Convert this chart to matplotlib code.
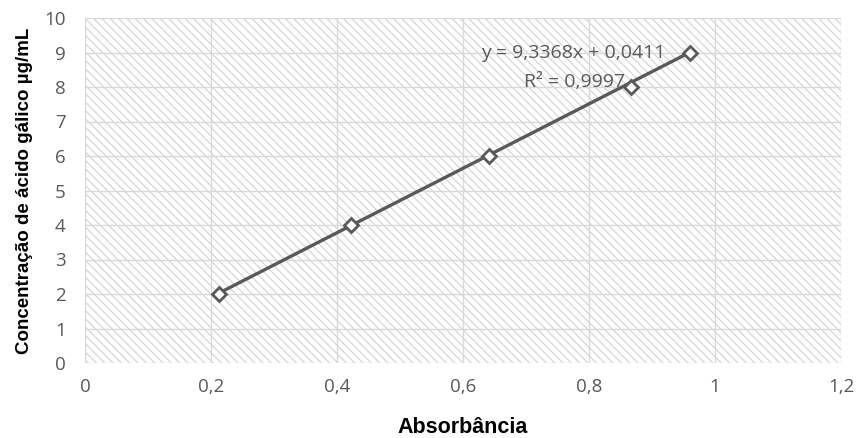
import matplotlib
matplotlib.use("Agg")
import matplotlib.pyplot as plt
import numpy as np
from matplotlib.ticker import FuncFormatter, MultipleLocator

absorbance = [0.213, 0.422, 0.641, 0.866, 0.960]
concentration = [2, 4, 6, 8, 9]
slope = 9.3368
intercept = 0.0411
eq_text = "y = 9,3368x + 0,0411"
r2_text = "R² = 0,9997"

plt.rcParams['hatch.color'] = '#d2d2d2'
plt.rcParams['hatch.linewidth'] = 0.8

fig = plt.figure(figsize=(8.67, 4.38), dpi=100)
ax = fig.add_axes([85/867, 75/438, (841-85)/867, (363-18)/438])

ax.patch.set_facecolor('white')
ax.patch.set_hatch('\\\\\\\\')
ax.patch.set_edgecolor('#d2d2d2')

ax.set_xlim(0, 1.2)
ax.set_ylim(0, 10)
ax.xaxis.set_major_locator(MultipleLocator(0.2))
ax.yaxis.set_major_locator(MultipleLocator(1))
fmt = FuncFormatter(lambda v, p: ('%g' % round(v, 2)).replace('.', ','))
ax.xaxis.set_major_formatter(fmt)
ax.yaxis.set_major_formatter(fmt)

ax.grid(True, color='#d9d9d9', linewidth=1.0)
ax.set_axisbelow(True)
for s in ax.spines.values():
    s.set_visible(False)
ax.tick_params(axis='x', length=0, labelsize=13.5, labelcolor='#595959', pad=11)
ax.tick_params(axis='y', length=0, labelsize=13.5, labelcolor='#595959', pad=14)
for lab in ax.get_xticklabels() + ax.get_yticklabels():
    lab.set_family('Open Sans')

xs = np.array([min(absorbance), max(absorbance)])
ax.plot(xs, slope * xs + intercept, color='#595959', linewidth=2.4, zorder=3)
ax.plot(absorbance, concentration, linestyle='none', marker='D', markersize=7.5,
        markerfacecolor='white', markeredgecolor='#595959', markeredgewidth=2, zorder=4)

ax.text(0.921, 8.99, eq_text, ha='right', va='center', fontsize=14,
        color='#595959', family='Open Sans', zorder=5)
ax.text(0.857, 8.14, r2_text, ha='right', va='center', fontsize=14,
        color='#595959', family='Open Sans', zorder=5)

ax.set_xlabel('Absorbância', fontsize=15.5, fontweight='bold', family='Liberation Sans', labelpad=15)
ax.set_ylabel('Concentração de ácido gálico µg/mL', fontsize=13.5, fontweight='bold',
              family='Liberation Sans', labelpad=8)

fig.savefig('out.png', dpi=100)
